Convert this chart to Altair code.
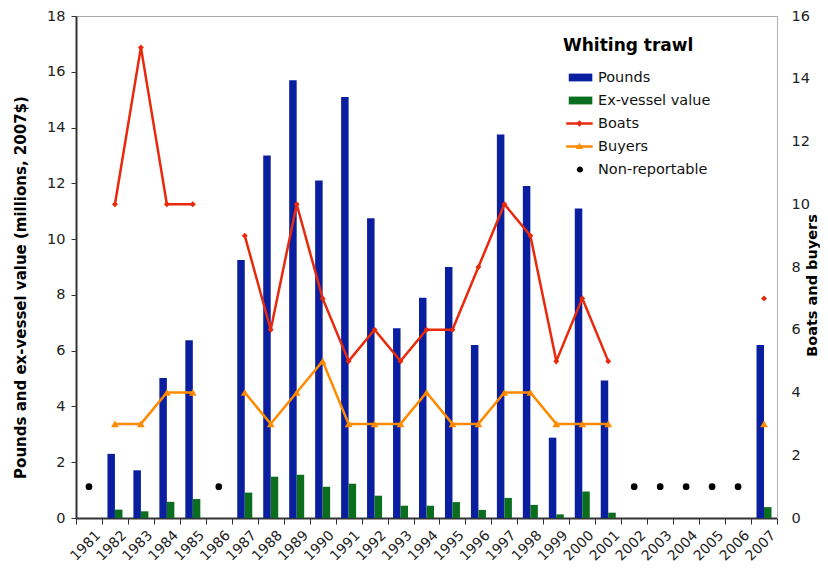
import altair as alt
import pandas as pd

years = [str(y) for y in range(1981, 2008)]
pounds = [None, 2.30, 1.71, 5.02, 6.37, None, 9.25, 13.0, 15.7, 12.1, 15.1, 10.75, 6.8, 7.9,
          9.0, 6.2, 13.75, 11.9, 2.88, 11.1, 4.93, None, None, None, None, None, 6.2]
exvessel = [None, 0.30, 0.24, 0.58, 0.68, None, 0.91, 1.48, 1.55, 1.12, 1.23, 0.80, 0.44, 0.44,
            0.57, 0.29, 0.72, 0.47, 0.13, 0.95, 0.19, None, None, None, None, None, 0.39]
boats = [None, 10, 15, 10, 10, None, 9, 6, 10, 7, 5, 6, 5, 6,
         6, 8, 10, 9, 5, 7, 5, None, None, None, None, None, 7]
buyers = [None, 3, 3, 4, 4, None, 4, 3, 4, 5, 3, 3, 3, 4,
          3, 3, 4, 4, 3, 3, 3, None, None, None, None, None, 3]
nonrep = [1, None, None, None, None, 1, None, None, None, None, None, None, None, None,
          None, None, None, None, None, None, None, 1, 1, 1, 1, 1, None]

series = ["Pounds", "Ex-vessel value", "Boats", "Buyers", "Non-reportable"]
C_POUNDS, C_EXV, C_BOATS, C_BUYERS, C_NR = "#0A1F9F", "#0A6E1E", "#E8290B", "#FF8A00", "#000000"
colors = [C_POUNDS, C_EXV, C_BOATS, C_BUYERS, C_NR]
legend_shapes = [
    "M-0.5,-0.34H1.55V0.34H-0.5Z",
    "M-0.5,-0.34H1.55V0.34H-0.5Z",
    "M-0.72,-0.1H1.58V0.1H-0.72Z M0.43,-0.28L0.71,0L0.43,0.28L0.15,0Z",
    "M-0.72,-0.1H1.58V0.1H-0.72Z M0.43,-0.32L0.75,0.22L0.11,0.22Z",
    "M0.2,0A0.27,0.27 0 1,0 0.74,0A0.27,0.27 0 1,0 0.2,0Z",
]

FONT = "DejaVu Sans"


def runs(vals):
    rows = []
    seg = 0
    prev = None
    for y, v in zip(years, vals):
        if v is None:
            prev = None
            continue
        if prev is None:
            seg += 1
        rows.append({"year": y, "value": v, "seg": seg})
        prev = v
    return pd.DataFrame(rows)


pounds_df = pd.DataFrame([{"year": y, "value": v} for y, v in zip(years, pounds) if v is not None])
exv_df = pd.DataFrame([{"year": y, "value": v} for y, v in zip(years, exvessel) if v is not None])
boats_df = runs(boats)
buyers_df = runs(buyers)
nr_df = pd.DataFrame([{"year": y, "value": v} for y, v in zip(years, nonrep) if v is not None])
legend_df = pd.DataFrame({"year": years[:5], "series": series, "value": [1] * 5})

x_enc = alt.X(
    "year:N",
    scale=alt.Scale(domain=years, paddingInner=0, paddingOuter=0),
    axis=alt.Axis(
        title=None, labelAngle=315, labelFont=FONT, labelFontSize=14, labelColor="#222",
        tickBand="extent", tickSize=6, tickColor="#333", domainColor="#333", domainWidth=2,
        labelPadding=4, labelOffset=4, grid=False,
    ),
)

left_axis = alt.Axis(orient="left", values=list(range(0, 19, 2)), grid=False,
                     title="Pounds and ex-vessel value (millions, 2007$)",
                     titleFont=FONT, titleFontSize=15, titleFontWeight="bold", titleColor="#000",
                     titlePadding=18, titleY=271,
                     labelFont=FONT, labelFontSize=14.5, labelColor="#222", labelPadding=6,
                     tickSize=5, tickColor="#333", domainColor="#333", domainWidth=2)
y_left = alt.Y("value:Q", scale=alt.Scale(domain=[0, 18]), axis=left_axis)

right_axis = alt.Axis(orient="right", values=list(range(0, 17, 2)), grid=False,
                      title="Boats and buyers", titleAngle=270,
                      titleFont=FONT, titleFontSize=14.5, titleFontWeight="bold", titleColor="#000",
                      titlePadding=10, titleY=269,
                      labelFont=FONT, labelFontSize=14.5, labelColor="#222", labelPadding=14,
                      ticks=False, domainColor="#b0b0b0", domainWidth=1)
y_right = alt.Y("value:Q", scale=alt.Scale(domain=[0, 16]), axis=right_axis)

BAR_W = 7.5
bar_p = alt.Chart(pounds_df).mark_bar(width=BAR_W, xOffset=-BAR_W / 2, color=C_POUNDS).encode(x=x_enc, y=y_left)
bar_e = alt.Chart(exv_df).mark_bar(width=BAR_W, xOffset=BAR_W / 2, color=C_EXV).encode(x=x_enc, y=y_left)
left = alt.layer(bar_p, bar_e)

line_b = alt.Chart(boats_df).mark_line(strokeWidth=2.5, color=C_BOATS).encode(
    x=x_enc, y=y_right, detail="seg:N")
pts_b = alt.Chart(boats_df).mark_point(shape="diamond", filled=True, size=36, opacity=1, color=C_BOATS).encode(
    x=x_enc, y=y_right)
line_u = alt.Chart(buyers_df).mark_line(strokeWidth=2.5, color=C_BUYERS).encode(
    x=x_enc, y=y_right, detail="seg:N")
pts_u = alt.Chart(buyers_df).mark_point(shape="triangle-up", filled=True, size=60, opacity=1, color=C_BUYERS).encode(
    x=x_enc, y=y_right)
dots = alt.Chart(nr_df).mark_circle(size=45, opacity=1, color=C_NR).encode(x=x_enc, y=y_right)

legend_def = alt.Legend(title="Whiting trawl", orient="none", legendX=487, legendY=22,
                        symbolSize=529, symbolStrokeWidth=0, symbolOpacity=1,
                        labelFont=FONT, labelFontSize=14.5, labelColor="#111",
                        labelOffset=12, rowPadding=5, padding=0,
                        titleFont=FONT, titleFontSize=17, titleFontWeight="bold",
                        titleColor="#000", titlePadding=11, labelLimit=300)

legend_layer = alt.Chart(legend_df).transform_filter("false").mark_point(
    filled=True, opacity=1, strokeWidth=0
).encode(
    x=x_enc, y=y_right,
    color=alt.Color("series:N", scale=alt.Scale(domain=series, range=colors), legend=legend_def),
    shape=alt.Shape("series:N", scale=alt.Scale(domain=series, range=legend_shapes), legend=legend_def),
)

right = alt.layer(line_b, line_u, pts_b, pts_u, dots, legend_layer)

chart = alt.layer(left, right).resolve_scale(y="independent").properties(
    width=701, height=502,
    autosize=alt.AutoSizeParams(type="none"),
    padding={"left": 68, "top": 8, "right": 43, "bottom": 46},
    background="white",
).configure_view(stroke="#a8a8a8", strokeWidth=1)

chart.save("out.html", embed_options={"renderer": "svg", "actions": False})
